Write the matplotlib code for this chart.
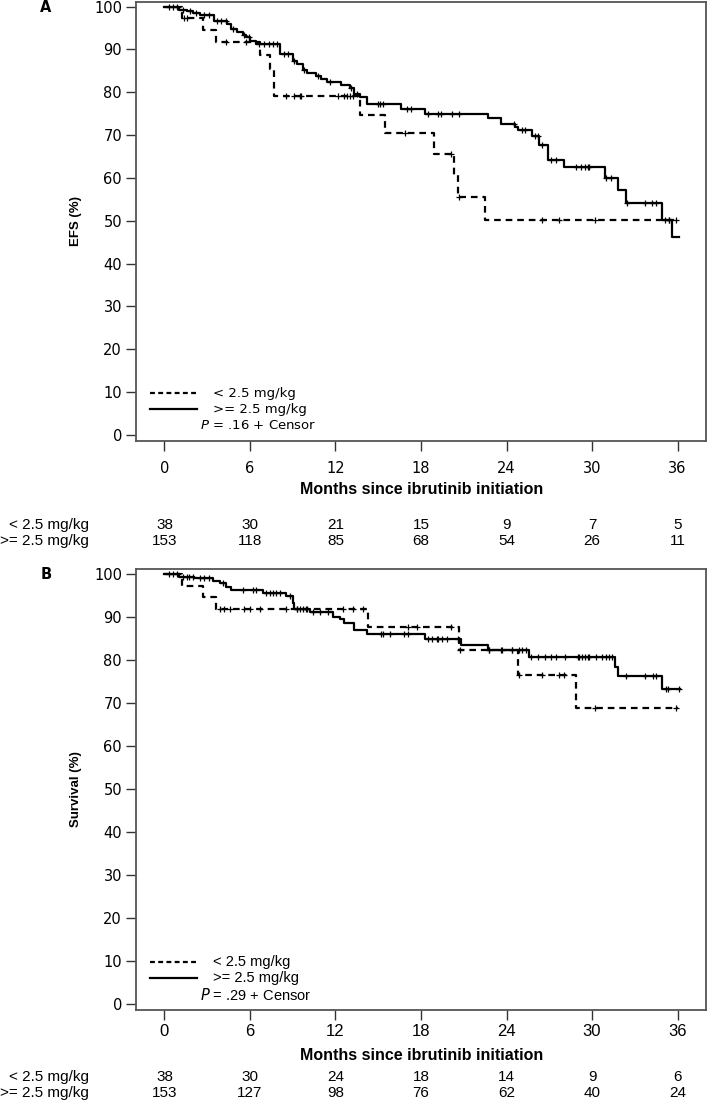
import numpy as np
import matplotlib
matplotlib.use("Agg")
import matplotlib.pyplot as plt
from matplotlib.transforms import blended_transform_factory

NARROW = ['Liberation Sans Narrow', 'Liberation Sans', 'DejaVu Sans']

# ---- data ----
months = [0, 6, 12, 18, 24, 30, 36]
groups = ['< 2.5 mg/kg', '>= 2.5 mg/kg']

# panel A: EFS
efs_lo_t = [0, 1.2, 2.7, 3.6, 6.7, 7.4, 7.7, 13.7, 15.5, 18.9, 20.3, 20.6, 22.5]
efs_lo_s = [100, 97.4, 94.6, 91.8, 88.6, 85.5, 79.1, 74.8, 70.4, 65.7, 60.8, 55.5, 50.1]
efs_lo_end = 36.0
efs_lo_cens = [1.4, 1.6, 4.3, 5.7, 8.5, 9.1, 9.5, 9.6, 12.2, 12.6, 12.8, 13.0, 13.2,
               16.9, 20.1, 20.65, 26.5, 27.7, 30.2, 35.4, 35.9]

efs_hi_t = [0, 1.05, 1.6, 2.0, 2.5, 3.5, 4.4, 4.7, 5.1, 5.5, 5.7, 6.0, 6.4, 8.1, 9.0, 9.3,
            9.7, 10.0, 10.6, 11.0, 11.4, 12.4, 13.0, 13.3, 13.7, 14.2, 16.6, 18.3, 22.7,
            23.6, 24.6, 24.8, 25.8, 26.3, 26.9, 28.0, 30.9, 31.8, 32.4, 34.9, 35.6]
efs_hi_s = [100, 99.3, 99.0, 98.5, 98.0, 96.6, 96.0, 94.8, 94.0, 93.4, 92.8, 91.9, 91.3,
            89.0, 87.4, 86.7, 85.1, 84.4, 83.7, 83.2, 82.4, 81.6, 80.9, 79.7, 78.8, 77.2,
            76.2, 75.0, 73.9, 72.5, 71.8, 71.1, 69.7, 67.8, 64.3, 62.5, 59.9, 57.1, 54.1,
            50.1, 46.1]
efs_hi_end = 36.1
efs_hi_cens = [0.3, 0.6, 0.9, 1.3, 1.8, 2.2, 2.8, 3.1, 3.7, 4.0, 4.3, 4.8, 5.6, 5.9,
               6.6, 7.0, 7.3, 7.6, 7.9, 8.4, 8.7, 9.1, 9.8, 10.8, 11.6, 13.1, 13.5,
               15.0, 15.1, 15.3, 17.05, 17.3, 18.5, 19.2, 19.4, 20.2, 20.7, 24.5,
               25.1, 25.3, 26.0, 26.2, 26.5, 27.1, 27.5, 28.9, 29.2, 29.5, 29.7, 29.8,
               31.0, 31.3, 32.45, 33.7, 34.2, 34.5, 35.1, 35.4]

# panel B: overall survival
os_lo_t = [0, 1.2, 2.7, 3.6, 14.3, 20.7, 24.8, 28.9]
os_lo_s = [100, 97.2, 94.6, 91.9, 87.6, 82.3, 76.5, 68.8]
os_lo_end = 36.0
os_lo_cens = [3.9, 4.2, 4.6, 5.6, 6.0, 6.7, 8.5, 9.3, 10.0, 12.5, 13.2, 13.9, 17.1,
              17.7, 20.1, 20.75, 22.8, 23.7, 24.4, 24.9, 26.5, 27.7, 28.0, 30.2, 35.9]

os_hi_t = [0, 1.05, 2.1, 3.4, 3.9, 4.35, 4.7, 6.9, 8.5, 9.0, 9.1, 10.2, 11.8, 12.3, 12.6,
           13.3, 14.2, 18.3, 20.8, 22.7, 25.6, 31.6, 31.8, 34.9]
os_hi_s = [100, 99.3, 99.0, 98.4, 97.9, 97.0, 96.3, 95.6, 94.9, 93.3, 91.9, 91.0, 90.0,
           89.5, 88.6, 87.0, 86.0, 84.9, 83.5, 82.2, 80.7, 78.4, 76.2, 73.3]
os_hi_end = 36.2
os_hi_cens = [0.3, 0.6, 0.9, 1.3, 1.6, 1.75, 2.0, 2.5, 2.8, 3.1, 4.1, 5.5, 6.2, 6.4,
              7.1, 7.4, 7.6, 7.8, 8.1, 8.8, 9.3, 9.5, 9.7, 9.9, 10.4, 10.9, 11.5,
              15.2, 15.3, 15.8, 16.8, 17.1, 18.5, 18.8, 19.1, 19.2, 19.5, 19.8, 20.6,
              22.8, 23.6, 24.4, 24.9, 25.1, 25.4, 25.7, 26.2, 26.7, 27.1, 27.5, 28.1,
              29.0, 29.1, 29.3, 29.5, 29.7, 29.8, 30.3, 30.7, 31.0, 31.2, 31.4, 32.4,
              33.7, 34.3, 34.5, 35.2, 35.3, 36.1]

efs_risk_lo = [38, 30, 21, 15, 9, 7, 5]
efs_risk_hi = [153, 118, 85, 68, 54, 26, 11]
os_risk_lo = [38, 30, 24, 18, 14, 9, 6]
os_risk_hi = [153, 127, 98, 76, 62, 40, 24]


def level_at(t, times, levels):
    i = np.searchsorted(times, t, side='right') - 1
    return np.asarray(levels)[i]


def km(ax, times, levels, end, cens, ls):
    x = list(times) + [end]
    y = list(levels) + [levels[-1]]
    if ls == 'dashed':
        ax.step(x, y, where='post', color='black', lw=1.6, linestyle=(0, (3, 2.2)))
    else:
        ax.step(x, y, where='post', color='black', lw=1.6)
    ax.plot(cens, level_at(cens, times, levels), linestyle='none', marker='+',
            color='black', markersize=5, mew=0.9)


def panel(fig, rect, letter, ylab, curves, pval, risk, legend_font, xtick_font,
          xpad, xlab_y, risk_y):
    ax = fig.add_axes(rect)
    for c in curves:
        km(ax, *c)
    ax.set_xlim(-2, 38)
    ax.set_ylim(-1.4, 101.1)
    ax.set_xticks(months)
    ax.set_yticks(range(0, 101, 10))
    ax.tick_params(direction='out', length=7, width=1, labelsize=10.5, pad=3,
                   color='#333333')
    ax.tick_params(axis='x', pad=xpad)
    for lab in ax.get_xticklabels():
        lab.set(**xtick_font)
    for s in ax.spines.values():
        s.set_color('#555555')
        s.set_linewidth(1.3)
    ax.set_ylabel(ylab, fontsize=9.5, fontweight='bold', family=NARROW)
    ax.yaxis.set_label_coords(-0.095, 0.5)

    # legend drawn by hand as in the figure
    ax.plot([-1.0, 2.3], [9.7, 9.7], color='black', lw=1.6, linestyle=(0, (2.2, 1.5)))
    ax.plot([-1.0, 2.3], [6.0, 6.0], color='black', lw=1.6)
    ax.text(3.4, 9.7, groups[0], va='center', **legend_font)
    ax.text(3.4, 6.0, groups[1], va='center', **legend_font)
    ax.text(2.5, 2.2, r'$\it{P}$' + ' = ' + pval + ' + Censor', va='center', **legend_font)

    fig.text(0.065, rect[1] + rect[3] - 0.005, letter, fontsize=10.5, fontweight='bold',
             va='center', ha='center')
    fig.text(0.594, xlab_y, 'Months since ibrutinib initiation', fontsize=11.5,
             fontweight='bold', ha='center', va='center', family=NARROW)

    tr = blended_transform_factory(ax.transData, fig.transFigure)
    for row, (name, vals) in enumerate(zip(groups, risk)):
        yy = risk_y - row * 0.0142
        fig.text(0.125, yy, name, ha='right', va='center', fontsize=11, family=NARROW)
        for m, v in zip(months, vals):
            ax.text(m, yy, str(v), transform=tr, ha='center', va='center',
                    fontsize=11, family=NARROW)
    return ax


fig = plt.figure(figsize=(7.09, 11.06), dpi=100)
fig.patch.set_facecolor('white')

panel(fig, [0.1918, 0.6013, 0.804, 0.397], 'A', 'EFS (%)',
      [(efs_lo_t, efs_lo_s, efs_lo_end, efs_lo_cens, 'dashed'),
       (efs_hi_t, efs_hi_s, efs_hi_end, efs_hi_cens, 'solid')],
      '.16', [efs_risk_lo, efs_risk_hi], dict(fontsize=9.5),
      dict(fontsize=10.5), 7.5,
      1 - 489 / 1106, 1 - 525 / 1106)

panel(fig, [0.1918, 0.0868, 0.804, 0.3987], 'B', 'Survival (%)',
      [(os_lo_t, os_lo_s, os_lo_end, os_lo_cens, 'dashed'),
       (os_hi_t, os_hi_s, os_hi_end, os_hi_cens, 'solid')],
      '.29', [os_risk_lo, os_risk_hi], dict(fontsize=10.5, family=NARROW),
      dict(fontsize=12, family=NARROW), 3,
      1 - 1055 / 1106, 1 - 1077 / 1106)

fig.savefig('out.png', dpi=100)
